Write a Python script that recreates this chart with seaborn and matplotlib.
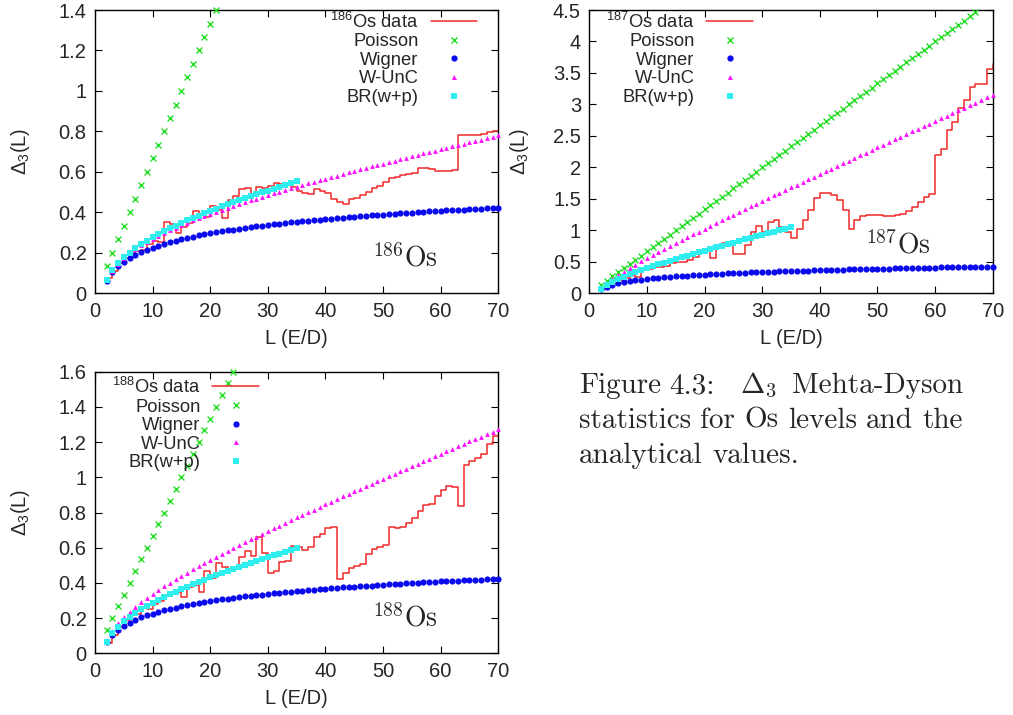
import matplotlib
matplotlib.use("Agg")
import matplotlib.pyplot as plt
import seaborn as sns
from matplotlib.lines import Line2D
from matplotlib.ticker import MultipleLocator, FormatStrFormatter

# ---------------- data ----------------
L = list(range(2, 71))          # L = 2 ... 70
L_br = list(range(2, 36))       # L = 2 ... 35

poisson = [0.133, 0.2, 0.267, 0.333, 0.4, 0.467, 0.533, 0.6, 0.667, 0.733,
           0.8, 0.867, 0.933, 1.0, 1.067, 1.133, 1.2, 1.267, 1.333, 1.4,
           1.467, 1.533, 1.6, 1.667, 1.733, 1.8, 1.867, 1.933, 2.0, 2.067,
           2.133, 2.2, 2.267, 2.333, 2.4, 2.467, 2.533, 2.6, 2.667, 2.733,
           2.8, 2.867, 2.933, 3.0, 3.067, 3.133, 3.2, 3.267, 3.333, 3.4,
           3.467, 3.533, 3.6, 3.667, 3.733, 3.8, 3.867, 3.933, 4.0, 4.067,
           4.133, 4.2, 4.267, 4.333, 4.4, 4.467, 4.533, 4.6, 4.667]

wigner = [0.063, 0.104, 0.134, 0.156, 0.175, 0.190, 0.204, 0.216, 0.226, 0.236,
          0.245, 0.253, 0.260, 0.267, 0.274, 0.280, 0.286, 0.291, 0.297, 0.302,
          0.306, 0.311, 0.315, 0.319, 0.323, 0.327, 0.331, 0.334, 0.338, 0.341,
          0.344, 0.347, 0.350, 0.353, 0.356, 0.359, 0.362, 0.364, 0.367, 0.369,
          0.372, 0.374, 0.376, 0.379, 0.381, 0.383, 0.385, 0.387, 0.389, 0.391,
          0.393, 0.395, 0.397, 0.399, 0.401, 0.403, 0.405, 0.406, 0.408, 0.410,
          0.411, 0.413, 0.414, 0.416, 0.418, 0.419, 0.421, 0.422, 0.424]

wunc_186 = [0.066, 0.112, 0.146, 0.174, 0.198, 0.219, 0.237, 0.255, 0.270, 0.285,
            0.299, 0.313, 0.325, 0.337, 0.349, 0.361, 0.372, 0.382, 0.393, 0.403,
            0.413, 0.422, 0.432, 0.441, 0.450, 0.459, 0.468, 0.477, 0.486, 0.494,
            0.503, 0.511, 0.519, 0.527, 0.535, 0.543, 0.551, 0.559, 0.567, 0.575,
            0.582, 0.590, 0.597, 0.605, 0.612, 0.620, 0.627, 0.634, 0.641, 0.649,
            0.656, 0.663, 0.670, 0.677, 0.684, 0.691, 0.698, 0.705, 0.712, 0.719,
            0.726, 0.732, 0.739, 0.746, 0.753, 0.760, 0.766, 0.773, 0.780]

wunc_187 = [0.073, 0.154, 0.224, 0.286, 0.345, 0.400, 0.454, 0.506, 0.556, 0.606,
            0.655, 0.703, 0.750, 0.797, 0.844, 0.890, 0.936, 0.981, 1.027, 1.072,
            1.116, 1.161, 1.205, 1.249, 1.293, 1.337, 1.381, 1.424, 1.468, 1.511,
            1.554, 1.597, 1.640, 1.683, 1.726, 1.769, 1.812, 1.854, 1.897, 1.939,
            1.982, 2.024, 2.067, 2.109, 2.151, 2.193, 2.235, 2.277, 2.319, 2.361,
            2.403, 2.445, 2.487, 2.529, 2.571, 2.613, 2.655, 2.696, 2.738, 2.780,
            2.821, 2.863, 2.904, 2.946, 2.988, 3.029, 3.071, 3.112, 3.154]

wunc_188 = [0.076, 0.129, 0.171, 0.206, 0.236, 0.264, 0.290, 0.314, 0.337, 0.359,
            0.380, 0.401, 0.421, 0.440, 0.459, 0.477, 0.495, 0.513, 0.531, 0.548,
            0.565, 0.582, 0.598, 0.615, 0.631, 0.647, 0.663, 0.679, 0.695, 0.710,
            0.726, 0.741, 0.757, 0.772, 0.787, 0.802, 0.817, 0.832, 0.847, 0.862,
            0.876, 0.891, 0.906, 0.920, 0.935, 0.949, 0.964, 0.978, 0.992, 1.007,
            1.021, 1.035, 1.049, 1.064, 1.078, 1.092, 1.106, 1.120, 1.134, 1.148,
            1.162, 1.176, 1.190, 1.204, 1.217, 1.231, 1.245, 1.259, 1.273]

br_186 = [0.066, 0.113, 0.148, 0.177, 0.201, 0.223, 0.242, 0.260, 0.277, 0.292,
          0.307, 0.321, 0.335, 0.348, 0.360, 0.373, 0.384, 0.396, 0.407, 0.418,
          0.429, 0.439, 0.450, 0.460, 0.470, 0.479, 0.489, 0.499, 0.508, 0.517,
          0.527, 0.536, 0.545, 0.554]

br_187 = [0.067, 0.129, 0.179, 0.223, 0.262, 0.299, 0.333, 0.366, 0.398, 0.429,
          0.459, 0.488, 0.516, 0.544, 0.572, 0.599, 0.626, 0.652, 0.678, 0.704,
          0.730, 0.755, 0.781, 0.806, 0.831, 0.856, 0.880, 0.905, 0.929, 0.954,
          0.978, 1.002, 1.026, 1.050]

br_188 = [0.066, 0.115, 0.151, 0.181, 0.207, 0.230, 0.251, 0.270, 0.288, 0.305,
          0.321, 0.336, 0.351, 0.366, 0.379, 0.393, 0.406, 0.419, 0.431, 0.444,
          0.456, 0.467, 0.479, 0.491, 0.502, 0.513, 0.524, 0.535, 0.546, 0.556,
          0.567, 0.577, 0.588, 0.598]

data_186 = [0.074, 0.11, 0.148, 0.175, 0.20, 0.21, 0.215, 0.245, 0.26, 0.255,
            0.35, 0.34, 0.30, 0.326, 0.345, 0.407, 0.39, 0.375, 0.43, 0.41,
            0.37, 0.46, 0.48, 0.515, 0.52, 0.487, 0.527, 0.52, 0.53, 0.545,
            0.54, 0.545, 0.524, 0.507, 0.497, 0.49, 0.514, 0.507, 0.494, 0.466,
            0.453, 0.441, 0.466, 0.47, 0.486, 0.502, 0.519, 0.53, 0.552, 0.568,
            0.577, 0.585, 0.59, 0.596, 0.62, 0.618, 0.613, 0.606, 0.603, 0.603,
            0.611, 0.78, 0.78, 0.78, 0.78, 0.787, 0.797, 0.802, 0.802]

data_187 = [0.07, 0.10, 0.14, 0.19, 0.24, 0.29, 0.26, 0.37, 0.38, 0.41,
            0.42, 0.44, 0.48, 0.49, 0.50, 0.53, 0.57, 0.66, 0.67, 0.555,
            0.77, 0.80, 0.77, 0.62, 0.62, 0.76, 0.97, 1.07, 0.97, 1.13,
            1.17, 1.06, 0.97, 0.88, 1.02, 1.16, 1.32, 1.51, 1.59, 1.59,
            1.56, 1.48, 1.32, 1.02, 1.17, 1.23, 1.25, 1.25, 1.24, 1.23,
            1.22, 1.25, 1.26, 1.31, 1.37, 1.45, 1.53, 1.57, 2.20, 2.29,
            2.59, 2.72, 2.94, 3.07, 3.27, 3.32, 3.33, 3.56, 3.65]

data_188 = [0.06, 0.105, 0.15, 0.19, 0.22, 0.225, 0.26, 0.25, 0.28, 0.30,
            0.33, 0.335, 0.35, 0.32, 0.375, 0.39, 0.35, 0.47, 0.43, 0.515,
            0.49, 0.47, 0.48, 0.55, 0.58, 0.555, 0.66, 0.57, 0.455, 0.47,
            0.52, 0.527, 0.61, 0.606, 0.587, 0.606, 0.663, 0.68, 0.712, 0.716,
            0.42, 0.456, 0.485, 0.496, 0.508, 0.564, 0.595, 0.604, 0.616, 0.718,
            0.71, 0.72, 0.742, 0.766, 0.81, 0.842, 0.85, 0.894, 0.93, 0.95,
            0.946, 0.836, 1.07, 1.09, 1.108, 1.13, 1.19, 1.233, 1.24]

isotopes = ["186", "187", "188"]
legend_labels = ["Os data", "Poisson", "Wigner", "W-UnC", "BR(w+p)"]
x_ticks = [0, 10, 20, 30, 40, 50, 60, 70]
caption_words = [["Figure", "4.3:", "$\\Delta_3$", "Mehta-Dyson"],
                 ["statistics", "for", "Os", "levels", "and", "the"],
                 ["analytical", "values."]]

# ---------------- style ----------------
sns.set_style("ticks")
plt.rcParams["font.family"] = ["Liberation Sans", "DejaVu Sans"]
plt.rcParams["mathtext.fontset"] = "custom"
plt.rcParams["mathtext.rm"] = "Liberation Sans"
plt.rcParams["mathtext.it"] = "Liberation Sans:italic"
plt.rcParams["mathtext.bf"] = "Liberation Sans:bold"

RED = "#f02828"
GREEN = "#22dd22"
BLUE = "#0a0aee"
MAG = "#ff10ff"
CYAN = "#30eeee"
FS = 14.5
LEGFS = 13.2
CAPFS = 21

W, H = 1013, 715
fig = plt.figure(figsize=(W / 100, H / 100), dpi=100)


def rect(x0, y_top, x1, y_bot):
    return [x0 / W, 1 - y_bot / H, (x1 - x0) / W, (y_bot - y_top) / H]


panels = [
    dict(rect=rect(95, 10, 498.3, 293.3), data=data_186, wunc=wunc_186, br=br_186,
         ymax=1.4, ystep=0.2, iso=isotopes[0], tag_xy=(48.1, 0.13),
         leg=(0.948, 0.995), ylab_x=-0.155),
    dict(rect=rect(589.3, 10, 992.7, 293.3), data=data_187, wunc=wunc_187, br=br_187,
         ymax=4.5, ystep=0.5, iso=isotopes[1], tag_xy=(47.8, 0.635),
         leg=(0.406, 0.995), ylab_x=-0.145),
    dict(rect=rect(95, 371.7, 498.3, 653.3), data=data_188, wunc=wunc_188, br=br_188,
         ymax=1.6, ystep=0.2, iso=isotopes[2], tag_xy=(48.1, 0.151),
         leg=(0.407, 0.982), ylab_x=-0.155),
]

for p in panels:
    ax = fig.add_axes(p["rect"])
    sns.lineplot(x=L, y=p["data"], ax=ax, drawstyle="steps-post", color=RED,
                 linewidth=1.1, estimator=None, legend=False, zorder=2)
    px = [l for l, v in zip(L, poisson) if v <= p["ymax"] + 1e-9]
    py = [v for v in poisson if v <= p["ymax"] + 1e-9]
    sns.scatterplot(x=px, y=py, ax=ax, marker="x", s=18, color=GREEN,
                    linewidth=1.0, legend=False, clip_on=False, zorder=3)
    sns.scatterplot(x=L, y=wigner, ax=ax, marker="o", s=20, color=BLUE,
                    linewidth=0, legend=False, clip_on=False, zorder=4)
    sns.scatterplot(x=L, y=p["wunc"], ax=ax, marker="^", s=12, color=MAG,
                    linewidth=0, legend=False, clip_on=False, zorder=5)
    sns.scatterplot(x=L_br, y=p["br"], ax=ax, marker="s", s=18, color=CYAN,
                    linewidth=0, legend=False, clip_on=False, zorder=6)

    ax.set_xlim(0, 70)
    ax.set_ylim(0, p["ymax"])
    ax.set_xticks(x_ticks)
    ax.yaxis.set_major_locator(MultipleLocator(p["ystep"]))
    ax.yaxis.set_major_formatter(FormatStrFormatter("%g"))
    ax.xaxis.set_major_formatter(FormatStrFormatter("%g"))
    ax.tick_params(direction="in", top=True, right=True, length=5, width=0.8,
                   labelsize=FS, pad=6, color="black")
    for s in ax.spines.values():
        s.set_visible(True)
        s.set_linewidth(1.0)
        s.set_color("black")

    ax.set_xlabel("L (E/D)", fontsize=FS)
    ax.set_ylabel(r"$\Delta_3$(L)", fontsize=FS)
    ax.xaxis.set_label_coords(0.5, -0.125)
    ax.yaxis.set_label_coords(p["ylab_x"], 0.5)

    handles = [
        Line2D([], [], color=RED, lw=1.1),
        Line2D([], [], ls="none", marker="x", color=GREEN, ms=4, mew=1.0),
        Line2D([], [], ls="none", marker="o", color=BLUE, ms=4.5, mew=0),
        Line2D([], [], ls="none", marker="^", color=MAG, ms=3.6, mew=0),
        Line2D([], [], ls="none", marker="s", color=CYAN, ms=4.2, mew=0),
    ]
    labels = [r"$^{%s}$" % p["iso"] + legend_labels[0]] + legend_labels[1:]
    ax.legend(handles, labels, loc="upper right", bbox_to_anchor=p["leg"],
              frameon=False, markerfirst=False, handlelength=2.55,
              handletextpad=0.65, labelspacing=0.09, borderpad=0,
              borderaxespad=0, fontsize=LEGFS, numpoints=1)

    ax.text(p["tag_xy"][0], p["tag_xy"][1], r"$^{%s}$Os" % p["iso"],
            fontfamily="cmr10", math_fontfamily="cm", fontsize=20,
            va="baseline", ha="left")

# caption, justified like the LaTeX paragraph (first two lines)
renderer = fig.canvas.get_renderer()
cap_x0, cap_x1 = 579, 963
gap_weights = [[0.6, 2.0, 1.2], None, None]
for i, words in enumerate(caption_words):
    y = 1 - (393 + 35 * i) / H
    texts = [fig.text(0, y, w, fontfamily="cmr10", math_fontfamily="cm",
                      fontsize=CAPFS, va="baseline", ha="left") for w in words]
    widths = [t.get_window_extent(renderer).width for t in texts]
    weights = gap_weights[i] or [1.0] * (len(words) - 1)
    if i < len(caption_words) - 1:
        unit = (cap_x1 - cap_x0 - sum(widths)) / sum(weights)
    else:
        unit = 0.333 * CAPFS * 100 / 72
    x = cap_x0
    for k, (t, wdt) in enumerate(zip(texts, widths)):
        t.set_x(x / W)
        if k < len(weights):
            x += wdt + unit * weights[k]

fig.savefig("out.png", dpi=100)
